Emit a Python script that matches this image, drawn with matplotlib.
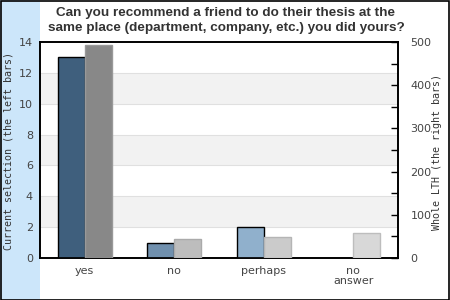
import matplotlib
matplotlib.use("Agg")
import matplotlib.pyplot as plt
from matplotlib.patches import Rectangle
import numpy as np

categories = ["yes", "no", "perhaps", "no\nanswer"]
current = [13, 1, 2, 0]
whole = [493, 44, 49, 58]
left_ticks = [0, 2, 4, 6, 8, 10, 12, 14]
right_ticks = [0, 100, 200, 300, 400, 500]

cur_colors = ["#3f5f7d", "#7090ae", "#90b0cc", "#b0cce4"]
whole_colors = ["#888888", "#bdbdbd", "#cbcbcb", "#d8d8d8"]
whole_edges = ["#999999", "#aaaaaa", "#b5b5b5", "#bdbdbd"]

W, H = 450, 300
fig = plt.figure(figsize=(4.5, 3.0), dpi=100)
fig.patch.set_facecolor("white")
fig.add_artist(Rectangle((0, 0), 40 / W, 1, transform=fig.transFigure,
                         facecolor="#cce6fa", edgecolor="none", zorder=0))
fig.add_artist(Rectangle((0.5 / W, 0.5 / H), 1 - 1.5 / W, 1 - 1.5 / H, transform=fig.transFigure,
                         facecolor="none", edgecolor="black", linewidth=1.2, zorder=10))

x0, x1, ytop, ybot = 40, 398, 42, 258
ax = fig.add_axes([x0 / W, 1 - ybot / H, (x1 - x0) / W, (ybot - ytop) / H])
ax.set_facecolor("white")
ax.set_xlim(0, 4)
ax.set_ylim(0, 14)
for lo in range(2, 14, 4):
    ax.axhspan(lo, lo + 2, facecolor="#f2f2f2", edgecolor="none", zorder=0)
for t in left_ticks[1:-1]:
    ax.axhline(t, color="#e0e0e0", linewidth=0.8, zorder=0.5)

ax2 = ax.twinx()
ax2.set_ylim(0, 500)

xs = np.arange(len(categories)) + 0.5
bw = 0.3
for i, x in enumerate(xs):
    if current[i] > 0:
        ax.bar(x - bw / 2, current[i], width=bw, color=cur_colors[i],
               edgecolor="black", linewidth=1.0, zorder=3)
    ax2.bar(x + bw / 2, whole[i], width=bw, color=whole_colors[i],
            edgecolor=whole_edges[i], linewidth=1.0, zorder=3)

ax.set_xticks(xs)
ax.set_xticklabels(categories, fontsize=8, color="#444444", linespacing=1.0)
ax.tick_params(axis="x", length=0, pad=6)
ax.set_yticks(left_ticks)
ax.set_yticklabels([str(t) for t in left_ticks], fontsize=8, color="#444444")
ax.tick_params(axis="y", length=0, pad=5)

ax2.set_yticks(right_ticks)
ax2.set_yticklabels([str(t) for t in right_ticks], fontsize=8, color="#444444")
ax2.set_yticks(np.arange(50, 500, 100), minor=True)
ax2.tick_params(axis="y", which="both", direction="in", length=5, pad=9, width=1)

for a in (ax, ax2):
    for s in a.spines.values():
        s.set_linewidth(1.2)
        s.set_color("black")

fig.text(8.5 / W, 1 - 151 / H, "Current selection (the left bars)", fontsize=7.2,
         family="DejaVu Sans Mono", color="#333333", rotation=90, ha="center", va="center")
fig.text(437 / W, 1 - 152 / H, "Whole LTH (the right bars)", fontsize=7.2,
         family="DejaVu Sans Mono", color="#333333", rotation=90, ha="center", va="center")

fig.text(226 / W, 1 - 20.5 / H,
         "Can you recommend a friend to do their thesis at the\nsame place (department, company, etc.) you did yours?",
         ha="center", va="center", fontsize=9.7, fontweight="bold", family="Liberation Sans",
         color="#333333", linespacing=1.4)

fig.savefig("out.png", dpi=100)
